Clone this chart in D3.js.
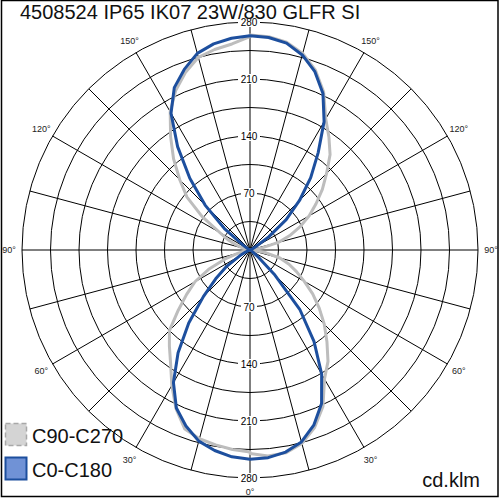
<!DOCTYPE html>
<html>
<head>
<meta charset="utf-8">
<script src="https://cdn.jsdelivr.net/npm/d3@7"></script>
<style>
  html, body { margin: 0; padding: 0; background: #fff; }
  svg { display: block; }
  text { font-family: "Liberation Sans", Arial, sans-serif; }
</style>
</head>
<body>
<svg id="chart" width="500" height="500"></svg>
<script>
// ---- data (cd/klm) ----
const title = "4508524 IP65 IK07 23W/830 GLFR SI";
const unitLabel = "cd.klm";
const gammas = [0,5,10,15,20,25,30,35,40,45,50,55,60,65,70,75,80,85,90,
                95,100,105,110,115,120,125,130,135,140,145,150,155,160,165,170,175,180];
// C0 (right half) and C180 (left half)
const c0   = [257,256,252,244,229,208,176,137,95,42,12,4,2,1,0,0,0,0,0,
              0,0,1,2,3,8,28,58,86,116,146,182,212,233,248,258,262,263];
const c180 = [257,255,250,243,230,214,188,154,117,81,55,35,15,6,2,1,0,0,0,
              0,0,0,1,2,3,10,41,78,115,155,194,220,236,250,257,261,263];
// C90 (right half) and C270 (left half)
const c90  = [250,254,253,246,232,212,183,167,147,129,111,94,77,63,51,38,20,5,0,
              4,15,36,52,68,84,99,116,133,153,169,186,214,235,250,259,263,264];
const c270 = [248,246,243,240,234,215,192,170,154,140,115,95,78,56,33,15,6,2,0,
              1,4,9,18,30,43,72,101,122,146,170,196,216,232,245,250,254,262];
const ringValues = [35,70,105,140,175,210,245,280];
const ringLabels = [70,140,210,280];
const spokeAngles = d3.range(0, 360, 15);
const angleLabels = [
  {a: 0, t: "0°"}, {a: 30, t: "30°"}, {a: -30, t: "30°"},
  {a: 60, t: "60°"}, {a: -60, t: "60°"}, {a: 90, t: "90°"}, {a: -90, t: "90°"},
  {a: 120, t: "120°"}, {a: -120, t: "120°"}, {a: 150, t: "150°"}, {a: -150, t: "150°"}
];
const legendItems = [
  {name: "C90-C270", key: "gray"},
  {name: "C0-C180", key: "blue"}
];

// ---- layout ----
const W = 500, H = 500, cx = 250, cy = 250, R = 228;
const colors = {
  gray: {line: "#bdbdbd", fill: "#d4d4d4", stroke: "#a8a8a8"},
  blue: {line: "#1d4f9e", fill: "#7092d6", stroke: "#1d4f9e"}
};
const svg = d3.select("#chart");
const r = d3.scaleLinear().domain([0, 280]).range([0, R]);
const g = svg.append("g").attr("transform", `translate(${cx},${cy})`);

// rings
g.selectAll("circle.ring").data(ringValues).join("circle")
  .attr("class", "ring").attr("r", d => r(d))
  .attr("fill", "none").attr("stroke", "#000").attr("stroke-width", 1);

// spokes (angle from downward direction)
g.selectAll("line.spoke").data(spokeAngles).join("line")
  .attr("x1", 0).attr("y1", 0)
  .attr("x2", d => R * Math.sin(d * Math.PI / 180))
  .attr("y2", d => R * Math.cos(d * Math.PI / 180))
  .attr("stroke", "#000").attr("stroke-width", 1);

// curves
function buildPoints(right, left) {
  const pts = [];
  gammas.forEach((gm, i) => pts.push([Math.PI - gm * Math.PI / 180, r(right[i])]));
  for (let i = gammas.length - 1; i >= 0; i--) {
    pts.push([Math.PI + gammas[i] * Math.PI / 180, r(left[i])]);
  }
  return pts;
}
const radial = d3.lineRadial().angle(d => d[0]).radius(d => d[1]).curve(d3.curveLinearClosed);
g.append("path").attr("d", radial(buildPoints(c90, c270)))
  .attr("fill", "none").attr("stroke", colors.gray.line).attr("stroke-width", 3)
  .attr("stroke-linejoin", "round");
g.append("path").attr("d", radial(buildPoints(c0, c180)))
  .attr("fill", "none").attr("stroke", colors.blue.line).attr("stroke-width", 3)
  .attr("stroke-linejoin", "round");

// ring labels (top and bottom)
const rl = [];
ringLabels.forEach(v => { rl.push({v, y: -r(v)}); rl.push({v, y: r(v)}); });
const rlG = g.selectAll("g.rl").data(rl).join("g")
  .attr("transform", d => `translate(-1,${d.y})`);
rlG.append("rect")
  .attr("x", d => -String(d.v).length * 3 - 2).attr("y", -5)
  .attr("width", d => String(d.v).length * 6 + 4).attr("height", 10)
  .attr("fill", "#fff");
rlG.append("text").text(d => d.v)
  .attr("text-anchor", "middle").attr("dy", "0.35em")
  .attr("font-size", 10).attr("fill", "#000");

// angle labels
g.selectAll("text.al").data(angleLabels).join("text")
  .attr("x", d => 241 * Math.sin(d.a * Math.PI / 180))
  .attr("y", d => 242 * Math.cos(d.a * Math.PI / 180))
  .attr("text-anchor", "middle").attr("dy", "0.35em")
  .attr("font-size", 9).attr("fill", "#222")
  .text(d => d.t);

// title
svg.append("text").attr("x", 20).attr("y", 19)
  .attr("font-size", 20).attr("fill", "#111").text(title);

// unit label
svg.append("text").attr("x", 480).attr("y", 487).attr("text-anchor", "end")
  .attr("font-size", 20).attr("fill", "#111").text(unitLabel);

// legend
const lg = svg.selectAll("g.lg").data(legendItems).join("g")
  .attr("transform", (d, i) => `translate(5,${423 + i * 34})`);
lg.append("rect").attr("x", 0.5).attr("y", 0.5).attr("width", 21).attr("height", 22)
  .attr("fill", d => colors[d.key].fill)
  .attr("stroke", d => colors[d.key].stroke)
  .attr("stroke-width", d => d.key === "gray" ? 1.5 : 2)
  .attr("stroke-dasharray", d => d.key === "gray" ? "5,3" : null);
lg.append("text").attr("x", 27).attr("y", 20)
  .attr("font-size", 20).attr("fill", "#111").text(d => d.name);

// frame
svg.append("rect").attr("x", 1.5).attr("y", 0.5).attr("width", 496.5).attr("height", 496)
  .attr("fill", "none").attr("stroke", "#000").attr("stroke-width", 1.5);
</script>
</body>
</html>
